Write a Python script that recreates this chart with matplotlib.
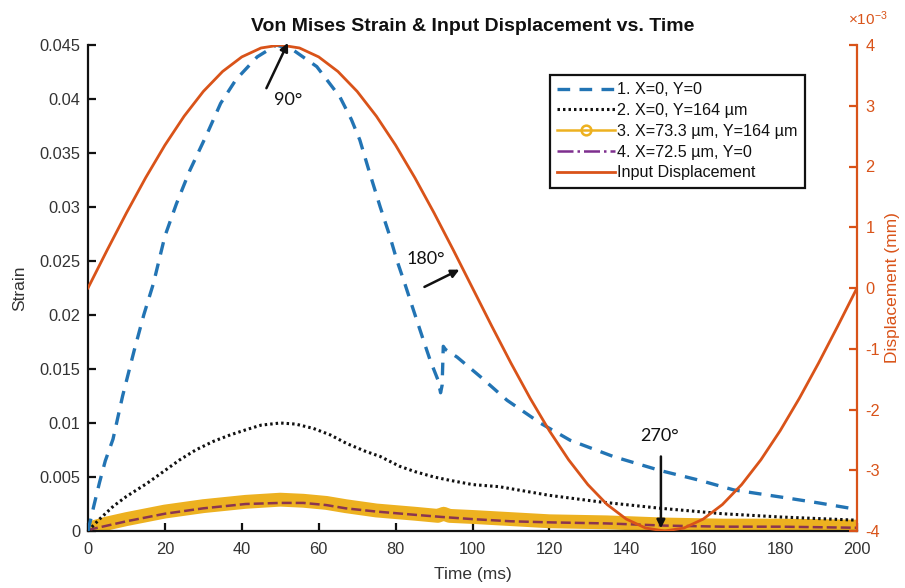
import matplotlib
matplotlib.use("Agg")
import matplotlib.pyplot as plt
from matplotlib.lines import Line2D

# ---------------- data ----------------
t1 = [0, 1.5, 3, 4.5, 6.5, 9, 12, 14.5, 17, 20, 23, 26.5, 31, 34.5, 38.5, 44, 49,
      53.5, 59.5, 65.5, 68.5, 70.7, 73.3, 76, 78.5, 80.3, 82.4, 84.6, 87.2, 89, 91,
      91.7, 92.1, 92.4, 93, 96, 102, 109, 117.6, 125.4, 136.6, 148.8, 159, 168, 181,
      190, 200]
s1 = [0, 0.0023, 0.0045, 0.0065, 0.0085, 0.0125, 0.0167, 0.0200, 0.0229, 0.0273,
      0.0303, 0.0334, 0.0368, 0.0396, 0.0418, 0.0439, 0.0450, 0.0445, 0.0430, 0.0402,
      0.0381, 0.0362, 0.0331, 0.0300, 0.0273, 0.0251, 0.0229, 0.0205, 0.0177, 0.0158,
      0.0140, 0.0128, 0.0135, 0.0171, 0.0168, 0.0161, 0.0143, 0.0121, 0.0100, 0.0084,
      0.0069, 0.0056, 0.0047, 0.0038, 0.0031, 0.0026, 0.0020]

t2 = [0, 3, 6.6, 10, 15.3, 20, 23.9, 28, 32.6, 37, 41.3, 45, 50, 54, 58.6, 63, 67.3,
      72, 76, 81, 85, 90, 94, 100, 107, 120, 133, 149, 165, 180, 200]
s2 = [0, 0.0011, 0.0023, 0.0032, 0.0044, 0.0056, 0.0066, 0.0075, 0.0083, 0.0089,
      0.0094, 0.0098, 0.0100, 0.0099, 0.0095, 0.0089, 0.0081, 0.0074, 0.0069, 0.0060,
      0.0055, 0.0050, 0.0047, 0.0043, 0.0041, 0.0033, 0.0027, 0.0021, 0.0016, 0.0013,
      0.0010]

t3 = [0, 5, 10, 20, 30, 41, 50, 56, 62, 67, 75, 85, 91, 92.5, 94, 100, 110, 120, 135,
      150, 165, 180, 200]
s3 = [0.0002, 0.0007, 0.0011, 0.0018, 0.0023, 0.0027, 0.0029, 0.0028, 0.0026, 0.0023,
      0.0019, 0.0016, 0.0014, 0.0016, 0.0014, 0.0013, 0.0011, 0.0009, 0.0008, 0.0006,
      0.0005, 0.0005, 0.0004]

t4 = [0, 5, 10, 20, 30, 41, 50, 56, 62, 67, 75, 85, 92, 100, 110, 120, 135, 150, 165,
      180, 200]
s4 = [0.0001, 0.0005, 0.0009, 0.0016, 0.0021, 0.0025, 0.0026, 0.0026, 0.0024, 0.0021,
      0.0018, 0.0015, 0.0013, 0.0011, 0.0009, 0.0008, 0.0007, 0.0005, 0.0004, 0.0004,
      0.0003]

# input displacement (mm), read every 5 ms
t_disp = list(range(0, 205, 5))
d_disp = [0.0, 0.626, 1.236, 1.816, 2.351, 2.828, 3.236, 3.564, 3.804, 3.951, 4.0,
          3.951, 3.804, 3.564, 3.236, 2.828, 2.351, 1.816, 1.236, 0.626, 0.0,
          -0.626, -1.236, -1.816, -2.351, -2.828, -3.236, -3.564, -3.804, -3.951, -4.0,
          -3.951, -3.804, -3.564, -3.236, -2.828, -2.351, -1.816, -1.236, -0.626, 0.0]
d_disp = [v * 1e-3 for v in d_disp]

labels = ["1. X=0, Y=0", "2. X=0, Y=164 \u00b5m", "3. X=73.3 \u00b5m, Y=164 \u00b5m",
          "4. X=72.5 \u00b5m, Y=0", "Input Displacement"]
strain_ticks = [0, 0.005, 0.01, 0.015, 0.02, 0.025, 0.03, 0.035, 0.04, 0.045]
strain_ticklabels = ["0", "0.005", "0.01", "0.015", "0.02", "0.025", "0.03", "0.035",
                     "0.04", "0.045"]
time_ticks = [0, 20, 40, 60, 80, 100, 120, 140, 160, 180, 200]
disp_ticks = [-4e-3, -3e-3, -2e-3, -1e-3, 0, 1e-3, 2e-3, 3e-3, 4e-3]
disp_ticklabels = ["-4", "-3", "-2", "-1", "0", "1", "2", "3", "4"]
disp_multiplier = r"$\times$10$^{-3}$"

# ---------------- style ----------------
plt.rcParams['font.family'] = ['Liberation Sans', 'DejaVu Sans']
plt.rcParams['axes.unicode_minus'] = False
plt.rcParams['mathtext.fontset'] = 'custom'
plt.rcParams['mathtext.rm'] = 'Liberation Sans'
plt.rcParams['mathtext.it'] = 'Liberation Sans:italic'
BLUE = "#2274b4"
BLACK = "#111111"
YELLOW = "#EDB120"
PURPLE = "#7E2F8E"
ORANGE = "#D95319"
TXT = "#333333"

fig = plt.figure(figsize=(9.05, 5.88), dpi=100)
ax = fig.add_axes([88/905, 1-531/588, (857-88)/905, (531-45)/588])
ax2 = ax.twinx()

ax.plot(t3, s3, color=YELLOW, lw=10, solid_capstyle='round', solid_joinstyle='round', zorder=2)
ax.plot(t4, s4, color="#8a3550", lw=1.8, linestyle=(0, (4, 1.6)), zorder=3)
ax.plot(t2, s2, color=BLACK, lw=2.2, linestyle=(0, (0.8, 1.0)), zorder=4)
ax.plot(t1, s1, color=BLUE, lw=2.4, linestyle=(0, (3.8, 2.8)), zorder=5)
ax2.plot(t_disp, d_disp, color=ORANGE, lw=2.0)

ax.set_xlim(0, 200)
ax.set_ylim(0, 0.045)
ax2.set_ylim(-4e-3, 4e-3)

ax.set_xticks(time_ticks)
ax.set_yticks(strain_ticks)
ax.set_yticklabels(strain_ticklabels)
ax2.set_yticks(disp_ticks)
ax2.set_yticklabels(disp_ticklabels)

for a in (ax, ax2):
    a.spines['top'].set_visible(False)
ax.spines['right'].set_visible(False)
ax2.spines['left'].set_visible(False)
ax2.spines['bottom'].set_visible(False)
ax.spines['left'].set_linewidth(1.6)
ax.spines['bottom'].set_linewidth(1.6)
ax.spines['left'].set_color(BLACK)
ax.spines['bottom'].set_color(BLACK)
ax2.spines['right'].set_linewidth(1.6)
ax2.spines['right'].set_color(ORANGE)

ax.tick_params(axis='both', direction='in', length=5.5, width=1.6, color=BLACK,
               labelsize=11.8, labelcolor=TXT)
ax.tick_params(axis='x', pad=8)
ax.tick_params(axis='y', pad=5.5)
ax2.tick_params(axis='y', direction='in', length=5.5, width=1.6, color=ORANGE,
                labelsize=11.8, labelcolor=ORANGE, pad=6)
ax2.text(0.988, 1.0 + 17/486, disp_multiplier, transform=ax2.transAxes, ha='left',
         va='bottom', fontsize=11, color=ORANGE)

ax.set_xlabel("Time (ms)", fontsize=12.5, color=TXT, labelpad=7)
ax.set_ylabel("Strain", fontsize=12.5, color=TXT)
ax.yaxis.set_label_coords(-0.079, 0.5)
ax2.set_ylabel("Displacement (mm)", fontsize=12.5, color=ORANGE)
ax2.yaxis.set_label_coords(1.037, 0.5)
ax.set_title("Von Mises Strain & Input Displacement vs. Time", fontsize=14,
             fontweight='bold', color=BLACK, pad=10)

# annotations
ann_font = dict(family=['Lato', 'DejaVu Sans'], fontsize=13, color=BLACK)
arrow = dict(arrowstyle='-|>', color=BLACK, lw=1.8, mutation_scale=12, shrinkA=0, shrinkB=0)
ax2.annotate("", xy=(52, 0.0452), xytext=(46.4, 0.041), xycoords=ax.transData,
             textcoords=ax.transData, arrowprops=arrow)
ax2.text(52, 0.0399, "90\u00b0", transform=ax.transData, ha='center', va='center', **ann_font)
ax2.annotate("", xy=(96.6, 0.0242), xytext=(87.5, 0.0226), xycoords=ax.transData,
             textcoords=ax.transData, arrowprops=arrow)
ax2.text(87.8, 0.0252, "180\u00b0", transform=ax.transData, ha='center', va='center', **ann_font)
ax2.annotate("", xy=(149, 0.00025), xytext=(149, 0.0069), xycoords=ax.transData,
             textcoords=ax.transData, arrowprops=arrow)
ax2.text(148.6, 0.0088, "270\u00b0", transform=ax.transData, ha='center', va='center', **ann_font)

# legend
handles = [
    Line2D([], [], color=BLUE, lw=2.4, linestyle=(0, (3.8, 2.8))),
    Line2D([], [], color=BLACK, lw=2.2, linestyle=(0, (0.8, 1.0))),
    Line2D([], [], color=YELLOW, lw=1.8, marker='o', markersize=7,
           markerfacecolor='none', markeredgewidth=1.8),
    Line2D([], [], color=PURPLE, lw=1.8, linestyle='-.'),
    Line2D([], [], color=ORANGE, lw=2.0),
]
leg = ax2.legend(handles, labels, loc='upper right', bbox_to_anchor=(805/905, 1-75/588),
                 bbox_transform=fig.transFigure, fontsize=11.6, frameon=True,
                 fancybox=False, framealpha=1, edgecolor=BLACK, handlelength=3.6,
                 handletextpad=0.15, labelspacing=0.36, borderpad=0.45, borderaxespad=0)
leg.get_frame().set_linewidth(1.6)
for txt in leg.get_texts():
    txt.set_color(BLACK)

fig.savefig("out.png", dpi=100)
